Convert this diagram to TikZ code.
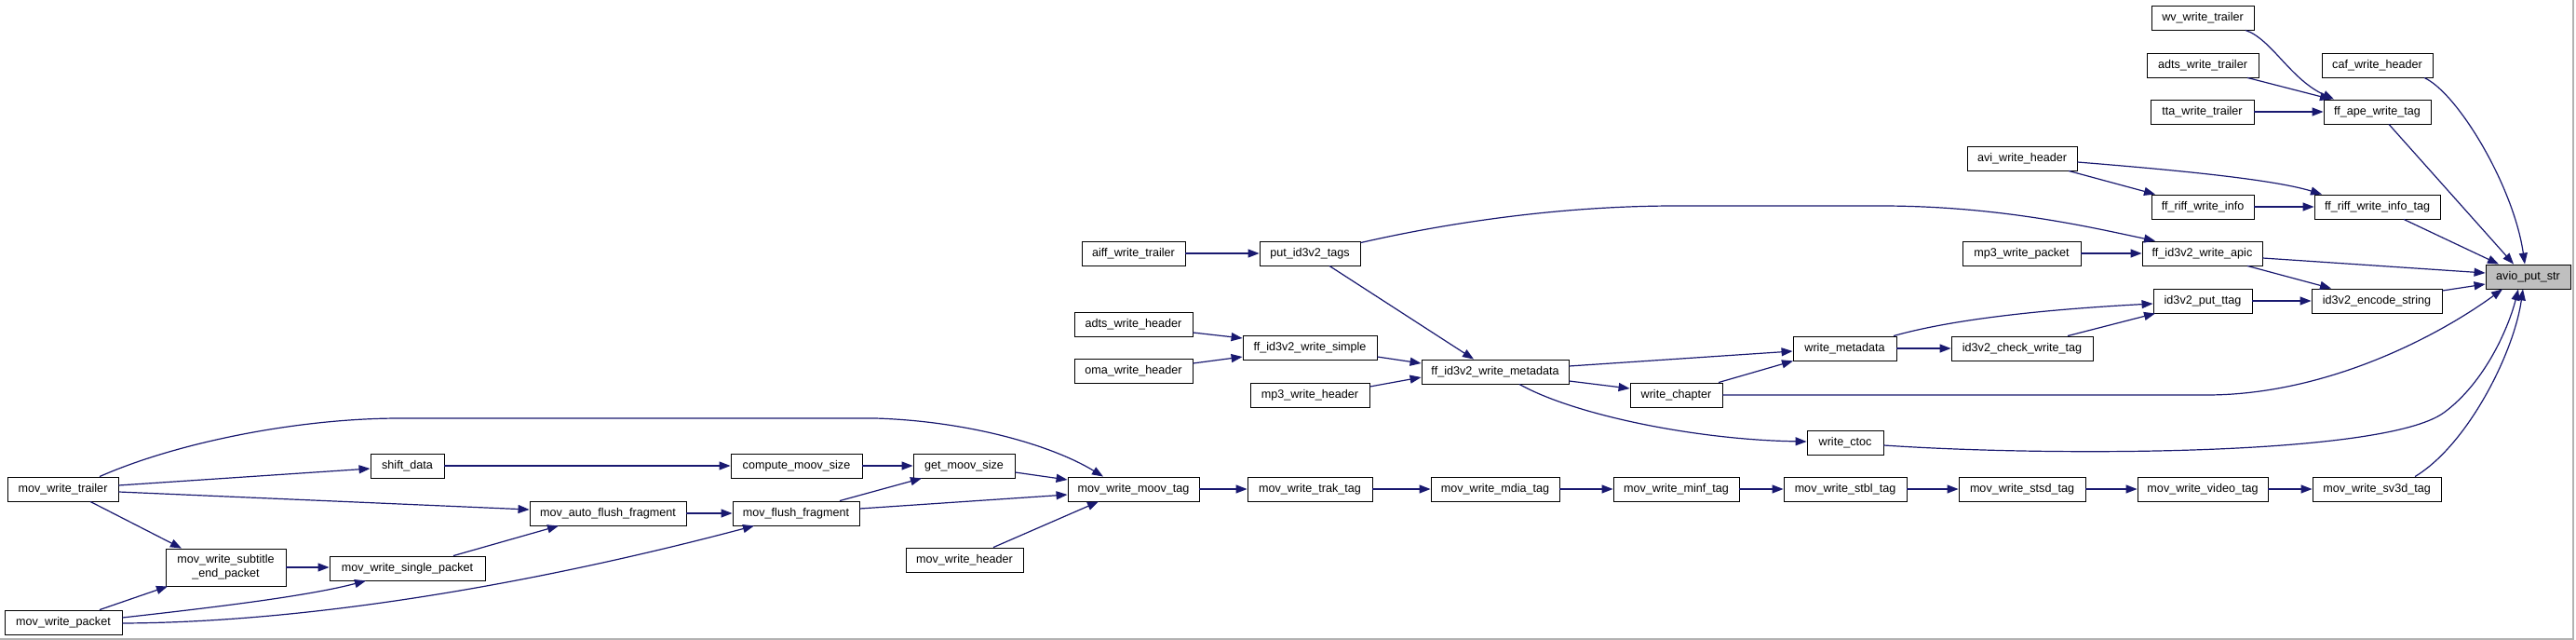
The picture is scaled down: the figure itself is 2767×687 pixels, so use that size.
\documentclass[tikz,border=0pt]{standalone}
\usepackage{fontspec}
\usetikzlibrary{arrows.meta}
\newfontfamily\dxnodefont{Liberation Sans}
\newcommand\dxfont{\dxnodefont\fontsize{12.6}{14.7}\selectfont}
\definecolor{edgec}{HTML}{191970}
\definecolor{boxgray}{HTML}{BFBFBF}
\begin{document}
\begin{tikzpicture}[x=1pt,y=-1pt,
  fnbase/.style={draw=black, line width=0.9pt, fill=white, inner sep=0pt, minimum height=26pt, font=\dxfont, text=black},
  fn/.style={fnbase, text height=9.4pt, text depth=2.6pt},
  e/.style={draw=edgec, line width=1.2pt, -{Triangle[length=12pt,width=9pt]}}]
\useasboundingbox (0,0) rectangle (2767,687);
\fill[white] (0,0) rectangle (2767,687);
\draw[gray!60, line width=1.5pt] (0,686) -- (2764,686) -- (2764,0);

% nodes
\node[fn, minimum width=110pt] (wv)   at (2366,19)   {wv\_write\_trailer};
\node[fn, minimum width=120pt] (adtsT) at (2366,70)  {adts\_write\_trailer};
\node[fn, minimum width=119pt] (caf)  at (2553.5,70) {caf\_write\_header};
\node[fn, minimum width=111pt] (tta)  at (2365.5,120) {tta\_write\_trailer};
\node[fn, minimum width=115pt] (ape)  at (2553.5,120) {ff\_ape\_write\_tag};
\node[fn, minimum width=118pt] (avi)  at (2172,170)  {avi\_write\_header};
\node[fn, minimum width=110pt] (rinfo) at (2366,222) {ff\_riff\_write\_info};
\node[fn, minimum width=135pt] (rtag) at (2553.5,222) {ff\_riff\_write\_info\_tag};
\node[fn, minimum width=127pt] (mp3p) at (2171.5,272) {mp3\_write\_packet};
\node[fn, minimum width=129pt] (apic) at (2365.5,272) {ff\_id3v2\_write\_apic};
\node[fn, minimum width=91pt, fill=boxgray] (avio) at (2715.5,297) {avio\_put\_str};
\node[fn, minimum width=111pt] (aiff) at (1217.5,272) {aiff\_write\_trailer};
\node[fn, minimum width=108pt] (put)  at (1407,272)   {put\_id3v2\_tags};
\node[fn, minimum width=106pt] (ttag) at (2366,323)   {id3v2\_put\_ttag};
\node[fn, minimum width=140pt] (enc)  at (2553,323)   {id3v2\_encode\_string};
\node[fn, minimum width=127pt] (adtsH) at (1217.5,348) {adts\_write\_header};
\node[fn, minimum width=127pt] (oma)  at (1217.5,398) {oma\_write\_header};
\node[fn, minimum width=144pt] (simple) at (1407,373) {ff\_id3v2\_write\_simple};
\node[fn, minimum width=128pt] (mp3h) at (1407,424)   {mp3\_write\_header};
\node[fn, minimum width=158pt] (meta) at (1606,399)   {ff\_id3v2\_write\_metadata};
\node[fn, minimum width=99pt]  (chap) at (1800.5,424) {write\_chapter};
\node[fn, minimum width=111pt] (wm)   at (1981.5,374) {write\_metadata};
\node[fn, minimum width=152pt] (check) at (2172,374)  {id3v2\_check\_write\_tag};
\node[fn, minimum width=82pt]  (ctoc) at (1982,475)   {write\_ctoc};
\node[fn, minimum width=79pt]  (shift) at (437.5,500) {shift\_data};
\node[fn, minimum width=141pt] (comp) at (855.5,500)  {compute\_moov\_size};
\node[fn, minimum width=109pt] (get)  at (1035.5,500) {get\_moov\_size};
\node[fn, minimum width=119pt] (trailer) at (67.5,525) {mov\_write\_trailer};
\node[fn, minimum width=141pt] (moov) at (1217.5,525) {mov\_write\_moov\_tag};
\node[fn, minimum width=134pt] (trak) at (1407,525)   {mov\_write\_trak\_tag};
\node[fn, minimum width=138pt] (mdia) at (1606,525)   {mov\_write\_mdia\_tag};
\node[fn, minimum width=135pt] (minf) at (1800.5,525) {mov\_write\_minf\_tag};
\node[fn, minimum width=132pt] (stbl) at (1982,525)   {mov\_write\_stbl\_tag};
\node[fn, minimum width=136pt] (stsd) at (2172,525)   {mov\_write\_stsd\_tag};
\node[fn, minimum width=140pt] (video) at (2366,525)  {mov\_write\_video\_tag};
\node[fn, minimum width=138pt] (sv3d) at (2553,525)   {mov\_write\_sv3d\_tag};
\node[fn, minimum width=168pt] (auto) at (653,551)    {mov\_auto\_flush\_fragment};
\node[fn, minimum width=136pt] (flush) at (855,551)   {mov\_flush\_fragment};
\node[fn, minimum width=126pt] (header) at (1036,601) {mov\_write\_header};
\node[fnbase, minimum width=129pt, minimum height=40pt, align=center] (sub) at (242.5,609) {mov\_write\_subtitle\\\_end\_packet};
\node[fn, minimum width=167pt] (single) at (437.5,610) {mov\_write\_single\_packet};
\node[fn, minimum width=126pt] (packet) at (68,668)   {mov\_write\_packet};

% edges: left part
\draw[e] ([xshift=39.5pt]trailer.north) .. controls (190,475) and (320,449) .. (430,449)
  -- (940,449) .. controls (1040,452) and (1130,478) .. ([xshift=-32.5pt]moov.north);
\draw[e] ([yshift=4pt]trailer.east) -- ([yshift=-3pt]shift.west);
\draw[e] ([yshift=-3pt]trailer.east) -- ([yshift=4pt]auto.west);
\draw[e] ([xshift=29.5pt]trailer.south) -- ([xshift=-47.5pt]sub.north);
\draw[e] (sub.east) -- (sub.east -| single.west);
\draw[e] ([xshift=39pt]packet.north) -- ([xshift=-62.5pt]sub.south);
\draw[e] ([yshift=5pt]packet.east) .. controls (230,652) and (330,640) .. ([xshift=-44.5pt]single.south);
\draw[e] ([yshift=-1pt]packet.east) .. controls (350,668) and (600,620) .. ([xshift=-45pt]flush.south);
\draw[e] ([xshift=49.5pt]single.north) -- ([xshift=-53pt]auto.south);
\draw[e] (auto.east) -- (flush.west);
\draw[e] (shift.east) -- (comp.west);
\draw[e] (comp.east) -- (get.west);
\draw[e] ([xshift=47pt]flush.north) -- ([xshift=-45.5pt]get.south);
\draw[e] ([yshift=5pt]flush.east) -- ([yshift=-6pt]moov.west);
\draw[e] ([yshift=-7pt]get.east) -- ([yshift=10pt]moov.west);
\draw[e] ([xshift=31pt]header.north) -- ([xshift=-37.5pt]moov.south);

% chain
\draw[e] (moov.east) -- (trak.west);
\draw[e] (trak.east) -- (mdia.west);
\draw[e] (mdia.east) -- (minf.west);
\draw[e] (minf.east) -- (stbl.west);
\draw[e] (stbl.east) -- (stsd.west);
\draw[e] (stsd.east) -- (video.west);
\draw[e] (video.east) -- (sv3d.west);
\draw[e] ([xshift=41pt]sv3d.north) .. controls (2650,478) and (2700,380) .. ([xshift=-5.5pt]avio.south);

% id3v2 part
\draw[e] (aiff.east) -- (put.west);
\draw[e] ([yshift=-2pt]put.north east) .. controls (1560,238) and (1680,221) .. (1800,221)
  -- (2020,221) .. controls (2150,221) and (2250,245) .. ([xshift=-50.5pt]apic.north);
\draw[e] ([xshift=21pt]put.south) -- ([xshift=-23pt]meta.north);
\draw[e] ([yshift=-9pt]adtsH.east) -- ([yshift=10pt]simple.west);
\draw[e] ([yshift=8pt]oma.east) -- ([yshift=-10pt]simple.west);
\draw[e] ([yshift=-10pt]simple.east) -- ([yshift=9pt]meta.west);
\draw[e] ([yshift=9pt]mp3h.east) -- ([yshift=-6pt]meta.west);
\draw[e] ([yshift=6pt]meta.east) -- ([yshift=-3pt]wm.west);
\draw[e] ([yshift=-10pt]meta.east) -- ([yshift=7pt]chap.west);
\draw[e] ([xshift=26pt]meta.south) .. controls (1690,445) and (1820,472) .. ([yshift=1pt]ctoc.west);
\draw[e] ([xshift=45.5pt]chap.north) -- ([xshift=-55.5pt]wm.south);
\draw[e] (chap.east) -- (2370,424) .. controls (2500,424) and (2620,360) .. ([xshift=-27.5pt]avio.south);
\draw[e] ([yshift=-3pt]ctoc.east) .. controls (2200,490) and (2560,490) .. (2625,443)
  .. controls (2670,410) and (2695,350) .. ([xshift=-10.5pt]avio.south);
\draw[e] (wm.east) -- (check.west);
\draw[e] ([xshift=52.5pt]wm.north) .. controls (2100,342) and (2200,332) .. ([yshift=-3pt]ttag.west);
\draw[e] ([xshift=49pt]check.north) -- ([xshift=-51pt]ttag.south);
\draw[e] (ttag.east) -- (enc.west);
\draw[e] ([yshift=11pt]enc.east) -- ([yshift=-8pt]avio.west);
\draw[e] ([yshift=-5pt]apic.east) -- ([yshift=4pt]avio.west);
\draw[e] ([xshift=48.5pt]apic.south) -- ([xshift=-49pt]enc.north);
\draw[e] (mp3p.east) -- (apic.west);

% top right
\draw[e] ([xshift=46pt]wv.south) .. controls (2440,42) and (2460,85) .. ([xshift=-46.5pt]ape.north);
\draw[e] ([xshift=48pt]adtsT.south) -- ([xshift=-49.5pt]ape.north);
\draw[e] (tta.east) -- (ape.west);
\draw[e] ([xshift=50.5pt]caf.south) .. controls (2640,100) and (2700,200) .. ([xshift=-3.5pt]avio.north);
\draw[e] ([xshift=12.5pt]ape.south) -- ([xshift=-15.5pt]avio.north);
\draw[e] ([xshift=28.5pt]rtag.south) -- ([xshift=-31.5pt]avio.north);
\draw[e] ([xshift=50pt]avi.south) -- ([xshift=-51pt]rinfo.north);
\draw[e] ([yshift=-4pt]avi.east) .. controls (2330,182) and (2440,192) .. ([xshift=-59.5pt]rtag.north);
\draw[e] (rinfo.east) -- (rtag.west);
\end{tikzpicture}
\end{document}
